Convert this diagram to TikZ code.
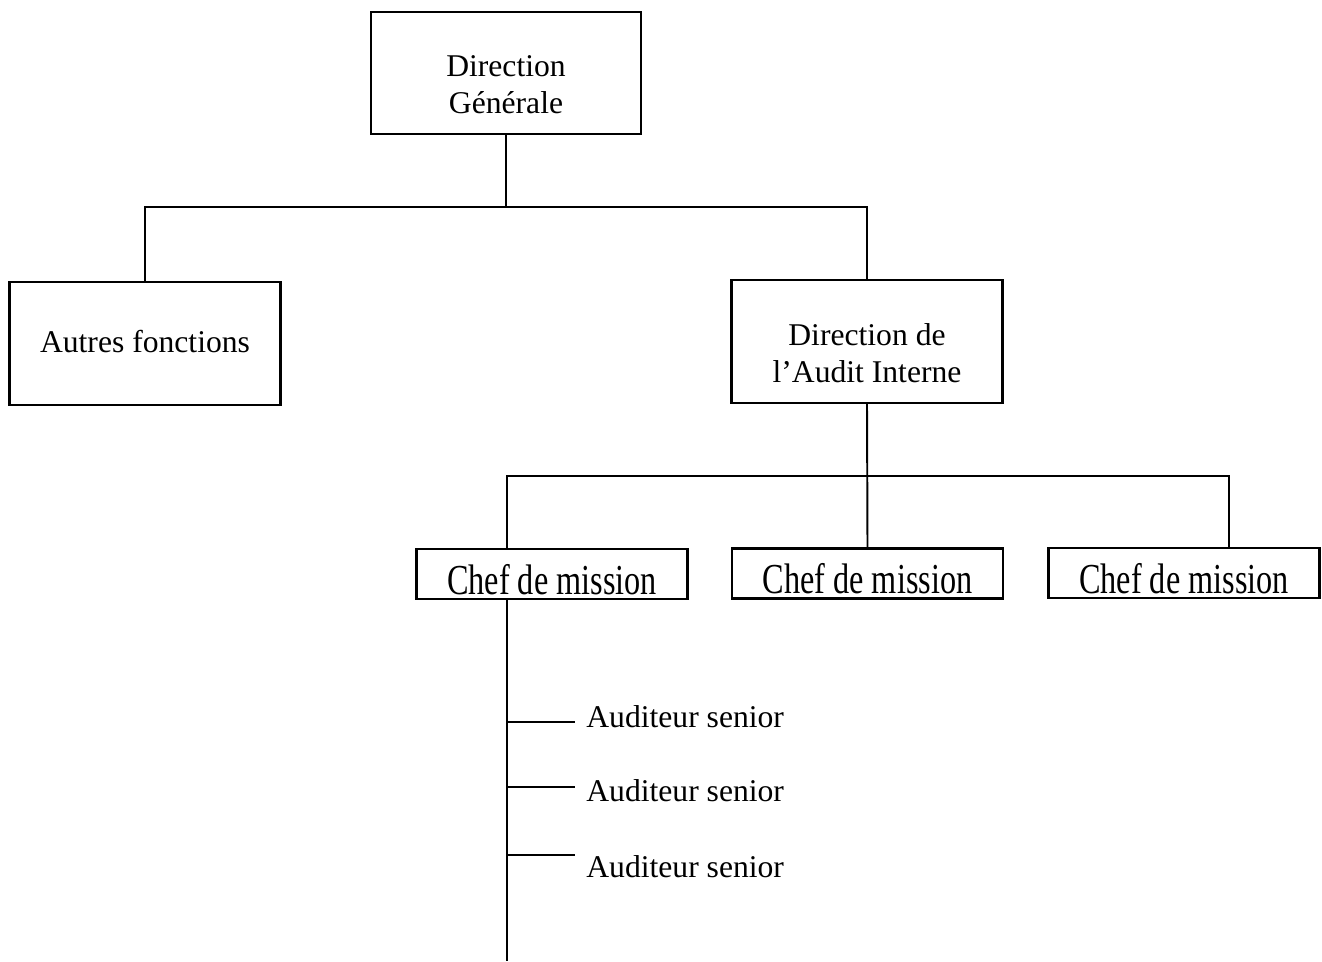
\documentclass[tikz,border=0pt]{standalone}
\usepackage{graphicx}
\usepackage{fontspec}
\setmainfont{Liberation Serif}

% two-line box text, set a little below the middle of its box
\newcommand{\lowtxt}[1]{\raisebox{-0.3cm}[\height][\depth]{\begin{tabular}{@{}c@{}}#1\end{tabular}}}
\newcommand{\chefname}{\scalebox{1.02}[1.35]{Chef de mission}}

\begin{document}
\begin{tikzpicture}[
  font=\fontsize{18}{21}\selectfont,
  unit/.style={draw=black, line width=1.2pt, fill=white, minimum width=5.42cm,
               minimum height=2.46cm, align=center, inner sep=2pt},
  chef/.style={draw=black, line width=1.2pt, minimum width=5.42cm, minimum height=1cm,
               inner xsep=2pt, inner ysep=0pt, text height=0.9cm, text depth=0.1cm},
  conn/.style={line width=1.1pt},
  lbl/.style={anchor=west, inner sep=0pt},
]
\useasboundingbox (0,0) rectangle (26.44,-19.22);

% ======================= top levels =======================
\node[unit, minimum width=5.4cm, minimum height=2.44cm] (DG) at (10.12,-1.46) {\lowtxt{Direction\\Générale}};
\node[unit] (AF)  at (2.9,-6.87)  {\raisebox{0.1cm}{Autres fonctions}};
\node[unit] (DAI) at (17.34,-6.83) {\lowtxt{Direction de\\l’Audit Interne}};

% ======================= chefs de mission =======================
\node[chef] (CM1) at (11.04,-11.48) {\chefname\hspace{0.38cm}};
\node[chef] (CM2) at (17.35,-11.47) {\chefname};
\node[chef] (CM3) at (23.68,-11.46) {\chefname};

% ======================= edges =======================
\coordinate (bus1) at (10.12,-4.14);
\draw[conn] (DG.south) -- (bus1);
\draw[conn] (AF.north) |- (bus1) -| (DAI.north);

\coordinate (tap3) at (24.58,-9.52);
\coordinate (stem) at (10.14,-19.22);
\draw[conn] (DAI.south) -- (CM2.north);
\draw[conn] (stem |- CM1.north) |- (tap3) -- (tap3 |- CM3.north);

% auditors hanging off the first chef (text y / tick offset)
\draw[conn] (stem |- CM1.south) -- (stem);
\foreach \y/\d/\n in {14.34/-0.1/1,15.82/0.08/2,17.34/0.24/3}{
  \node[lbl] (AS\n) at (11.72,-\y) {Auditeur senior};
  \draw[conn] ([yshift=\d cm]stem |- AS\n.west) -- ([xshift=-0.22cm,yshift=\d cm]AS\n.west);
}
\end{tikzpicture}
\end{document}
